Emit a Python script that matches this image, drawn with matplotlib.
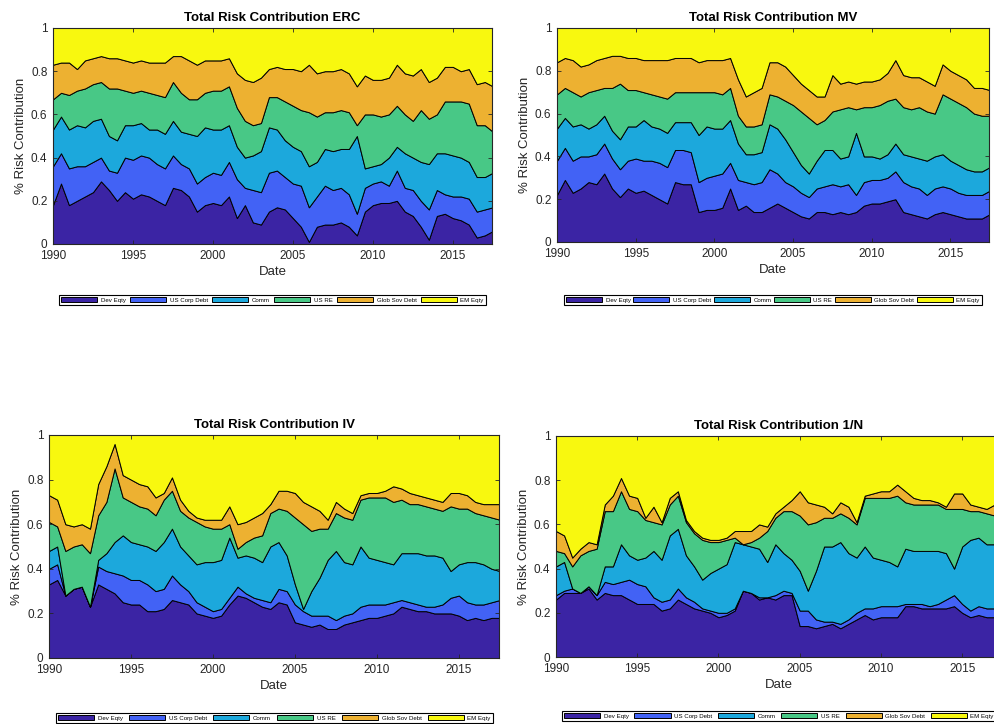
import numpy as np
import matplotlib.pyplot as plt

plt.rcParams['font.family'] = ['Liberation Sans', 'DejaVu Sans']

# half-year grid, 1990 .. 2017.5
dates = np.arange(1990, 2017.6, 0.5)
assets = ['Dev Eqty', 'US Corp Debt', 'Comm', 'US RE', 'Glob Sov Debt', 'EM Eqty']
colors = ['#3B24A4', '#4262F5', '#1CA8DC', '#48C886', '#EDB131', '#F8F80F']

# upper edge of each band (cumulative risk share); EM Eqty fills up to 1
erc_dev = [0.18, 0.28, 0.18, 0.20, 0.22, 0.24, 0.29, 0.25, 0.20, 0.24,
           0.21, 0.23, 0.22, 0.20, 0.18, 0.26, 0.25, 0.22, 0.15, 0.18,
           0.19, 0.18, 0.22, 0.12, 0.18, 0.10, 0.09, 0.15, 0.17, 0.16,
           0.12, 0.08, 0.01, 0.08, 0.09, 0.09, 0.10, 0.08, 0.04, 0.15,
           0.18, 0.19, 0.19, 0.20, 0.15, 0.13, 0.08, 0.02, 0.13, 0.14,
           0.12, 0.11, 0.09, 0.03, 0.04, 0.06]
erc_corp = [0.36, 0.42, 0.35, 0.36, 0.36, 0.38, 0.40, 0.34, 0.33, 0.40,
            0.39, 0.41, 0.40, 0.37, 0.35, 0.41, 0.37, 0.35, 0.28, 0.31,
            0.33, 0.32, 0.38, 0.30, 0.26, 0.25, 0.24, 0.33, 0.34, 0.31,
            0.28, 0.27, 0.17, 0.22, 0.27, 0.25, 0.26, 0.23, 0.14, 0.26,
            0.28, 0.29, 0.27, 0.34, 0.26, 0.25, 0.20, 0.16, 0.25, 0.23,
            0.22, 0.22, 0.21, 0.15, 0.16, 0.17]
erc_comm = [0.53, 0.59, 0.53, 0.55, 0.54, 0.57, 0.58, 0.50, 0.48, 0.55,
            0.55, 0.56, 0.53, 0.53, 0.51, 0.57, 0.52, 0.51, 0.50, 0.54,
            0.53, 0.53, 0.55, 0.45, 0.40, 0.41, 0.43, 0.54, 0.53, 0.48,
            0.45, 0.43, 0.36, 0.38, 0.44, 0.43, 0.44, 0.44, 0.50, 0.35,
            0.36, 0.37, 0.40, 0.45, 0.42, 0.40, 0.38, 0.37, 0.42, 0.42,
            0.41, 0.40, 0.38, 0.31, 0.31, 0.33]
erc_re = [0.67, 0.70, 0.69, 0.71, 0.72, 0.74, 0.75, 0.72, 0.72, 0.71,
          0.70, 0.71, 0.70, 0.69, 0.68, 0.75, 0.70, 0.67, 0.67, 0.70,
          0.71, 0.71, 0.73, 0.63, 0.57, 0.55, 0.56, 0.68, 0.68, 0.66,
          0.64, 0.62, 0.61, 0.59, 0.61, 0.61, 0.62, 0.61, 0.55, 0.60,
          0.60, 0.59, 0.60, 0.64, 0.60, 0.57, 0.62, 0.58, 0.60, 0.66,
          0.66, 0.66, 0.65, 0.55, 0.55, 0.52]
erc_sov = [0.83, 0.84, 0.84, 0.81, 0.85, 0.86, 0.87, 0.86, 0.86, 0.85,
           0.84, 0.85, 0.84, 0.84, 0.84, 0.87, 0.87, 0.85, 0.83, 0.85,
           0.85, 0.85, 0.86, 0.79, 0.76, 0.75, 0.77, 0.81, 0.82, 0.81,
           0.81, 0.80, 0.83, 0.79, 0.80, 0.80, 0.81, 0.79, 0.73, 0.78,
           0.76, 0.76, 0.77, 0.83, 0.79, 0.78, 0.81, 0.75, 0.77, 0.82,
           0.82, 0.80, 0.81, 0.74, 0.75, 0.73]

mv_dev = [0.22, 0.29, 0.23, 0.25, 0.28, 0.27, 0.32, 0.25, 0.21, 0.25,
          0.23, 0.24, 0.22, 0.20, 0.18, 0.28, 0.27, 0.27, 0.14, 0.15,
          0.15, 0.16, 0.25, 0.15, 0.17, 0.14, 0.14, 0.16, 0.18, 0.16,
          0.14, 0.12, 0.11, 0.14, 0.14, 0.13, 0.14, 0.13, 0.14, 0.17,
          0.18, 0.18, 0.19, 0.20, 0.14, 0.13, 0.12, 0.11, 0.13, 0.14,
          0.13, 0.12, 0.11, 0.11, 0.11, 0.13]
mv_corp = [0.38, 0.44, 0.38, 0.40, 0.40, 0.41, 0.46, 0.39, 0.34, 0.38,
           0.39, 0.38, 0.38, 0.37, 0.35, 0.43, 0.43, 0.42, 0.28, 0.30,
           0.31, 0.32, 0.37, 0.29, 0.28, 0.27, 0.28, 0.34, 0.32, 0.28,
           0.26, 0.23, 0.21, 0.25, 0.26, 0.27, 0.26, 0.27, 0.22, 0.28,
           0.29, 0.29, 0.30, 0.33, 0.28, 0.26, 0.25, 0.22, 0.25, 0.26,
           0.25, 0.23, 0.22, 0.22, 0.22, 0.24]
mv_comm = [0.53, 0.58, 0.54, 0.55, 0.53, 0.55, 0.59, 0.52, 0.48, 0.54,
           0.54, 0.57, 0.54, 0.53, 0.51, 0.56, 0.56, 0.56, 0.50, 0.54,
           0.53, 0.53, 0.57, 0.46, 0.41, 0.41, 0.42, 0.55, 0.53, 0.48,
           0.42, 0.36, 0.32, 0.38, 0.43, 0.43, 0.39, 0.40, 0.51, 0.40,
           0.40, 0.39, 0.41, 0.46, 0.41, 0.40, 0.39, 0.38, 0.40, 0.41,
           0.38, 0.36, 0.34, 0.33, 0.33, 0.35]
mv_re = [0.69, 0.72, 0.70, 0.68, 0.70, 0.71, 0.72, 0.72, 0.74, 0.71,
         0.71, 0.70, 0.69, 0.68, 0.67, 0.70, 0.70, 0.70, 0.70, 0.70,
         0.70, 0.69, 0.72, 0.59, 0.54, 0.54, 0.55, 0.69, 0.68, 0.66,
         0.64, 0.61, 0.58, 0.55, 0.57, 0.61, 0.62, 0.63, 0.62, 0.63,
         0.63, 0.64, 0.66, 0.67, 0.63, 0.62, 0.63, 0.61, 0.60, 0.69,
         0.67, 0.65, 0.63, 0.60, 0.59, 0.59]
mv_sov = [0.84, 0.86, 0.85, 0.82, 0.83, 0.85, 0.86, 0.87, 0.87, 0.86,
          0.86, 0.85, 0.85, 0.85, 0.85, 0.86, 0.86, 0.86, 0.84, 0.85,
          0.85, 0.85, 0.86, 0.76, 0.68, 0.70, 0.72, 0.84, 0.84, 0.82,
          0.78, 0.74, 0.71, 0.68, 0.68, 0.78, 0.74, 0.75, 0.74, 0.75,
          0.75, 0.76, 0.79, 0.85, 0.78, 0.77, 0.77, 0.75, 0.73, 0.83,
          0.80, 0.78, 0.76, 0.72, 0.72, 0.71]

iv_dev = [0.33, 0.35, 0.28, 0.31, 0.32, 0.23, 0.33, 0.31, 0.29, 0.25,
          0.24, 0.24, 0.21, 0.21, 0.22, 0.26, 0.25, 0.24, 0.20, 0.19,
          0.18, 0.19, 0.24, 0.28, 0.27, 0.25, 0.23, 0.22, 0.25, 0.24,
          0.16, 0.15, 0.14, 0.15, 0.13, 0.13, 0.15, 0.16, 0.17, 0.18,
          0.18, 0.19, 0.20, 0.23, 0.22, 0.21, 0.21, 0.20, 0.20, 0.20,
          0.19, 0.17, 0.18, 0.17, 0.18, 0.18]
iv_corp = [0.40, 0.42, 0.28, 0.31, 0.32, 0.23, 0.41, 0.39, 0.38, 0.37,
           0.35, 0.35, 0.33, 0.30, 0.31, 0.37, 0.33, 0.30, 0.25, 0.23,
           0.21, 0.22, 0.27, 0.32, 0.29, 0.27, 0.26, 0.25, 0.31, 0.30,
           0.24, 0.21, 0.19, 0.19, 0.19, 0.17, 0.19, 0.20, 0.23, 0.24,
           0.24, 0.24, 0.25, 0.26, 0.25, 0.24, 0.23, 0.23, 0.24, 0.27,
           0.28, 0.25, 0.24, 0.24, 0.25, 0.26]
iv_comm = [0.48, 0.50, 0.28, 0.31, 0.32, 0.23, 0.44, 0.47, 0.52, 0.55,
           0.52, 0.51, 0.50, 0.48, 0.52, 0.58, 0.50, 0.46, 0.42, 0.43,
           0.43, 0.44, 0.54, 0.45, 0.46, 0.45, 0.43, 0.50, 0.52, 0.46,
           0.33, 0.22, 0.30, 0.36, 0.44, 0.48, 0.43, 0.42, 0.50, 0.45,
           0.44, 0.43, 0.42, 0.47, 0.47, 0.47, 0.46, 0.46, 0.45, 0.39,
           0.42, 0.43, 0.43, 0.42, 0.40, 0.39]
iv_re = [0.61, 0.59, 0.48, 0.50, 0.51, 0.47, 0.64, 0.70, 0.85, 0.72,
         0.70, 0.68, 0.67, 0.64, 0.71, 0.75, 0.66, 0.63, 0.61, 0.59,
         0.58, 0.58, 0.60, 0.49, 0.52, 0.54, 0.55, 0.65, 0.67, 0.66,
         0.63, 0.60, 0.57, 0.58, 0.58, 0.65, 0.63, 0.62, 0.71, 0.72,
         0.72, 0.72, 0.70, 0.71, 0.69, 0.69, 0.68, 0.67, 0.66, 0.68,
         0.67, 0.67, 0.65, 0.64, 0.63, 0.62]
iv_sov = [0.73, 0.71, 0.60, 0.59, 0.60, 0.58, 0.78, 0.86, 0.96, 0.82,
          0.80, 0.78, 0.77, 0.72, 0.74, 0.81, 0.71, 0.66, 0.63, 0.62,
          0.62, 0.62, 0.68, 0.60, 0.61, 0.63, 0.65, 0.69, 0.75, 0.75,
          0.74, 0.70, 0.68, 0.66, 0.62, 0.70, 0.67, 0.65, 0.73, 0.74,
          0.74, 0.75, 0.77, 0.76, 0.74, 0.73, 0.72, 0.71, 0.70, 0.74,
          0.74, 0.73, 0.70, 0.69, 0.69, 0.69]

n_dev = [0.26, 0.29, 0.29, 0.29, 0.31, 0.26, 0.29, 0.28, 0.28, 0.26,
         0.24, 0.24, 0.24, 0.21, 0.22, 0.26, 0.24, 0.22, 0.21, 0.20,
         0.18, 0.19, 0.21, 0.30, 0.29, 0.26, 0.27, 0.26, 0.28, 0.28,
         0.14, 0.14, 0.13, 0.14, 0.15, 0.13, 0.15, 0.17, 0.19, 0.17,
         0.18, 0.18, 0.18, 0.23, 0.23, 0.22, 0.22, 0.22, 0.22, 0.23,
         0.20, 0.18, 0.19, 0.18, 0.18, 0.19]
n_corp = [0.28, 0.30, 0.31, 0.29, 0.32, 0.28, 0.34, 0.33, 0.34, 0.35,
          0.33, 0.32, 0.27, 0.25, 0.26, 0.31, 0.27, 0.25, 0.22, 0.21,
          0.20, 0.20, 0.22, 0.30, 0.29, 0.27, 0.27, 0.28, 0.30, 0.29,
          0.21, 0.21, 0.17, 0.16, 0.16, 0.15, 0.17, 0.20, 0.22, 0.22,
          0.23, 0.23, 0.23, 0.24, 0.24, 0.24, 0.23, 0.24, 0.26, 0.28,
          0.24, 0.21, 0.23, 0.22, 0.22, 0.23]
n_comm = [0.41, 0.43, 0.31, 0.29, 0.32, 0.28, 0.41, 0.41, 0.51, 0.46,
          0.44, 0.45, 0.48, 0.44, 0.55, 0.58, 0.46, 0.41, 0.35, 0.38,
          0.40, 0.42, 0.52, 0.51, 0.50, 0.49, 0.43, 0.51, 0.47, 0.44,
          0.39, 0.30, 0.39, 0.50, 0.50, 0.52, 0.47, 0.45, 0.50, 0.45,
          0.44, 0.43, 0.41, 0.49, 0.48, 0.48, 0.48, 0.48, 0.47, 0.40,
          0.50, 0.53, 0.54, 0.51, 0.51, 0.50]
n_re = [0.48, 0.47, 0.41, 0.46, 0.48, 0.49, 0.66, 0.66, 0.75, 0.67,
        0.66, 0.62, 0.61, 0.60, 0.69, 0.73, 0.61, 0.56, 0.53, 0.52,
        0.52, 0.53, 0.54, 0.51, 0.52, 0.54, 0.57, 0.63, 0.66, 0.66,
        0.64, 0.60, 0.61, 0.63, 0.63, 0.65, 0.63, 0.60, 0.72, 0.72,
        0.72, 0.72, 0.73, 0.70, 0.69, 0.69, 0.69, 0.69, 0.67, 0.67,
        0.67, 0.66, 0.66, 0.65, 0.64, 0.64]
n_sov = [0.57, 0.55, 0.45, 0.49, 0.52, 0.51, 0.69, 0.73, 0.81, 0.73,
         0.72, 0.63, 0.68, 0.61, 0.72, 0.75, 0.62, 0.57, 0.54, 0.53,
         0.53, 0.54, 0.57, 0.57, 0.57, 0.60, 0.59, 0.65, 0.68, 0.71,
         0.75, 0.70, 0.69, 0.68, 0.65, 0.70, 0.68, 0.61, 0.73, 0.74,
         0.75, 0.75, 0.78, 0.75, 0.72, 0.71, 0.71, 0.70, 0.68, 0.74,
         0.74, 0.69, 0.68, 0.67, 0.69, 0.69]


def shares(tops):
    # band thickness between consecutive edges
    edges = np.vstack([np.zeros(len(dates))] + [np.array(t) for t in tops]
                      + [np.ones(len(dates))])
    return np.diff(edges, axis=0)


W, H = 994.0, 724.0
# (title, edges, axes box px [left, top, right, bottom], legend box px)
panels = [
    ('ERC', [erc_dev, erc_corp, erc_comm, erc_re, erc_sov],
     (53, 28, 492, 244), (59, 291, 486, 305)),
    ('MV', [mv_dev, mv_corp, mv_comm, mv_re, mv_sov],
     (557, 28, 989, 242), (564, 291, 982, 305)),
    ('IV', [iv_dev, iv_corp, iv_comm, iv_re, iv_sov],
     (49, 435, 499, 658), (56, 709, 493, 723)),
    ('1/N', [n_dev, n_corp, n_comm, n_re, n_sov],
     (556, 436, 1002, 657), (562, 707, 996, 721)),
]

fig = plt.figure(figsize=(W / 100, H / 100), dpi=100)
grey = '#262626'

for name, tops, box, lbox in panels:
    l, t, r, b = box
    ax = fig.add_axes([l / W, 1 - b / H, (r - l) / W, (b - t) / H])
    polys = ax.stackplot(dates, shares(tops), colors=colors,
                         edgecolor='black', linewidth=0.7)
    ax.set_xlim(1990, 2017.45)
    ax.set_ylim(0, 1)
    ax.set_xticks([1990, 1995, 2000, 2005, 2010, 2015])
    ax.set_yticks([0, 0.2, 0.4, 0.6, 0.8, 1])
    ax.set_yticklabels(['0', '0.2', '0.4', '0.6', '0.8', '1'])
    ax.tick_params(direction='in', top=True, right=True, length=3,
                   width=0.6, colors=grey, labelsize=8.5, pad=4)
    for s in ax.spines.values():
        s.set_color(grey)
        s.set_linewidth(0.8)
    ax.set_title('Total Risk Contribution ' + name, fontsize=9.5,
                 fontweight='bold', pad=5)
    ax.set_xlabel('Date', fontsize=9.5, color=grey, labelpad=3)
    ax.set_ylabel('% Risk Contribution', fontsize=9.5, color=grey, labelpad=3)

    ll, lt, lr, lb = lbox
    lg = ax.legend(polys, assets, ncol=6, loc='lower left',
                   bbox_to_anchor=(ll / W, 1 - lb / H, (lr - ll) / W, (lb - lt) / H),
                   bbox_transform=fig.transFigure, mode='expand',
                   fontsize=4.4, handlelength=5.9, handleheight=0.9,
                   handletextpad=0.6, borderpad=0.35, borderaxespad=0,
                   fancybox=False, edgecolor='black', framealpha=1)
    lg.get_frame().set_linewidth(0.8)

fig.savefig('out.png', dpi=100)
